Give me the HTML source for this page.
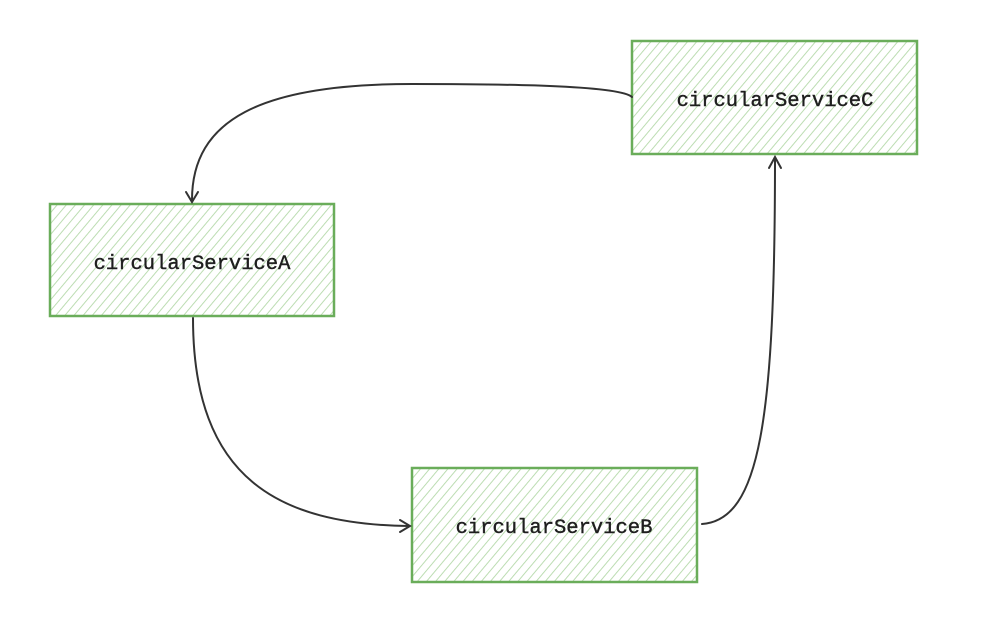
<!DOCTYPE html>
<html><head><style>
html,body{margin:0;padding:0;background:#fff;}
svg{display:block;}
text{font-family:"Liberation Mono",monospace;font-size:20.5px;fill:#1e1e1e;stroke:#1e1e1e;stroke-width:0.4;}
</style></head><body>
<svg width="1006" height="642" viewBox="0 0 1006 642" xmlns="http://www.w3.org/2000/svg">
<defs>
<pattern id="h" patternUnits="userSpaceOnUse" width="7" height="7" patternTransform="rotate(40)">
<line x1="0" y1="0" x2="0" y2="7" stroke="#b5d9aa" stroke-width="1.8"/>
</pattern>
</defs>
<g stroke="#6aad5a" stroke-width="2.5">
<rect x="50" y="204" width="284" height="112" fill="url(#h)"/>
<rect x="632" y="41" width="285" height="113" fill="url(#h)"/>
<rect x="412" y="468" width="285" height="114" fill="url(#h)"/>
</g>
<text x="192" y="269" text-anchor="middle">circularServiceA</text>
<text x="775" y="106" text-anchor="middle">circularServiceC</text>
<text x="554" y="533" text-anchor="middle">circularServiceB</text>
<g fill="none" stroke="#333" stroke-width="2" stroke-linecap="round">
<path d="M632 97 C620 86 520 84 412 84 C260 84 192 120 192 200"/>
<path d="M186 192 L192 202 L198 192"/>
<path d="M193 318 C193 480 280 524 408 526"/>
<path d="M400 520 L410 526 L400 532"/>
<path d="M702 524 C760 520 775 420 775 158"/>
<path d="M769 168 L775 157 L781 168"/>
</g>
</svg>
</body></html>
